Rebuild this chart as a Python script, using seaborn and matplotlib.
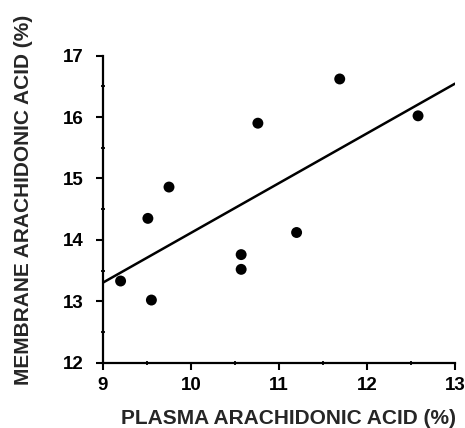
"""Membrane vs plasma arachidonic acid, scatter with regression line."""
import matplotlib
matplotlib.use('Agg')
import matplotlib.pyplot as plt
from matplotlib.ticker import MultipleLocator
import pandas as pd
import seaborn as sns

# values
plasma = [9.20, 9.55, 9.51, 9.75, 10.57, 10.57, 10.76, 11.20, 11.69, 12.58]
membrane = [13.33, 13.02, 14.35, 14.86, 13.76, 13.52, 15.90, 14.12, 16.62, 16.02]

df = pd.DataFrame({'plasma': plasma, 'membrane': membrane})

sns.set_style('ticks')
plt.rcParams['font.family'] = ['Liberation Sans', 'DejaVu Sans']
plt.rcParams['font.weight'] = 'bold'

fig = plt.figure(figsize=(4.65, 4.28), dpi=100)
ax = fig.add_axes([0.2215, 0.1526, 0.757, 0.7174])

ax.set_xlim(9, 13)
ax.set_ylim(12, 17)
sns.regplot(data=df, x='plasma', y='membrane', ax=ax, ci=None, truncate=False,
            color='black',
            scatter_kws={'s': 62, 'edgecolor': 'none', 'alpha': 1},
            line_kws={'linewidth': 1.8})
ax.set_xlim(9, 13)
ax.set_ylim(12, 17)

ax.xaxis.set_major_locator(MultipleLocator(1))
ax.xaxis.set_minor_locator(MultipleLocator(0.5))
ax.yaxis.set_major_locator(MultipleLocator(1))
ax.yaxis.set_minor_locator(MultipleLocator(0.5))

sns.despine(ax=ax)
for side in ('left', 'bottom'):
    ax.spines[side].set_linewidth(1.6)
    ax.spines[side].set_color('black')

ax.tick_params(which='major', direction='out', length=5, width=1.5,
               labelsize=13.5, colors='black')
ax.tick_params(axis='y', which='major', pad=9)
ax.tick_params(axis='x', which='major', pad=5)
ax.tick_params(which='minor', direction='inout', length=3, width=1.3,
               colors='black')
for lbl in ax.get_xticklabels() + ax.get_yticklabels():
    lbl.set_fontweight('bold')

ax.set_xlabel('PLASMA ARACHIDONIC ACID (%)', fontsize=15, fontweight='bold')
ax.set_ylabel('MEMBRANE ARACHIDONIC ACID (%)', fontsize=15, fontweight='bold')
ax.xaxis.set_label_coords(0.527, -0.151)
ax.yaxis.set_label_coords(-0.20, 0.53)

fig.savefig('out.png', dpi=100)
